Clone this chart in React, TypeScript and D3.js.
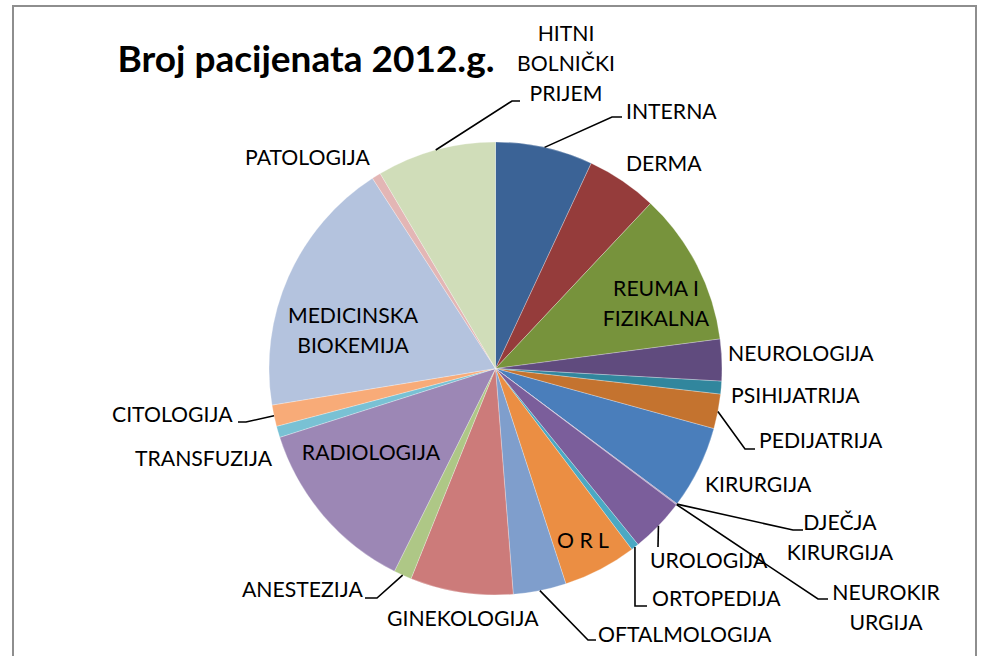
import React from "react";
import * as d3 from "d3";

const categories = [
  "INTERNA", "DERMA", "REUMA I FIZIKALNA", "NEUROLOGIJA", "PSIHIJATRIJA", "PEDIJATRIJA",
  "KIRURGIJA", "DJEČJA KIRURGIJA", "NEUROKIRURGIJA", "UROLOGIJA", "ORTOPEDIJA", "O R L",
  "OFTALMOLOGIJA", "GINEKOLOGIJA", "ANESTEZIJA", "RADIOLOGIJA", "TRANSFUZIJA", "CITOLOGIJA",
  "MEDICINSKA BIOKEMIJA", "PATOLOGIJA", "HITNI BOLNIČKI PRIJEM",
];
const values = [
  25.0, 18.2, 39.3, 10.7, 3.3, 8.9,
  21.3, 0.15, 0.15, 14.0, 2.0, 18.9,
  13.6, 26.4, 4.6, 45.8, 2.9, 5.5,
  66.4, 2.3, 30.6,
];
const colors = [
  "#3B6396", "#953C3B", "#77933C", "#604B7E", "#31869D", "#C4732F",
  "#4A7EBB", "#8064A2", "#7B5E9B", "#7B5E9B", "#4BA9C3", "#EB8E43",
  "#7F9ECC", "#CC7B7A", "#AEC786", "#9C87B5", "#79C1D4", "#F8AB78",
  "#B4C3DE", "#E3B6B5", "#D0DDB9",
];

type Lab = {
  lines: string[];
  x: number;
  y: number;
  anchor?: "start" | "middle";
  leader?: [number, number][];
};

const labels: Lab[] = [
  { lines: ["INTERNA"], x: 626, y: 111, leader: [[612, 117], [622, 117]] },
  { lines: ["DERMA"], x: 626, y: 163 },
  { lines: ["REUMA I", "FIZIKALNA"], x: 656, y: 288, anchor: "middle" },
  { lines: ["NEUROLOGIJA"], x: 728, y: 353 },
  { lines: ["PSIHIJATRIJA"], x: 731, y: 395 },
  { lines: ["PEDIJATRIJA"], x: 759, y: 440, leader: [[745, 449], [755, 449]] },
  { lines: ["KIRURGIJA"], x: 705, y: 484 },
  { lines: ["DJEČJA", "KIRURGIJA"], x: 840, y: 522, anchor: "middle", leader: [[793, 530], [803, 530]] },
  { lines: ["NEUROKIR", "URGIJA"], x: 886, y: 592, anchor: "middle", leader: [[818, 599], [828, 599]] },
  { lines: ["UROLOGIJA"], x: 650, y: 560, leader: [[658, 547]] },
  { lines: ["ORTOPEDIJA"], x: 652, y: 598, leader: [[635, 606], [647, 606]] },
  { lines: ["O R L"], x: 583, y: 540, anchor: "middle" },
  { lines: ["OFTALMOLOGIJA"], x: 598, y: 634, leader: [[588, 640], [596, 640]] },
  { lines: ["GINEKOLOGIJA"], x: 387, y: 618 },
  { lines: ["ANESTEZIJA"], x: 242, y: 589, leader: [[377, 598], [365, 598]] },
  { lines: ["RADIOLOGIJA"], x: 371, y: 452, anchor: "middle" },
  { lines: ["TRANSFUZIJA"], x: 135, y: 458 },
  { lines: ["CITOLOGIJA"], x: 112, y: 414, leader: [[246, 422], [238, 422]] },
  { lines: ["MEDICINSKA", "BIOKEMIJA"], x: 353, y: 315, anchor: "middle" },
  { lines: ["PATOLOGIJA"], x: 245, y: 157 },
  { lines: ["HITNI", "BOLNIČKI", "PRIJEM"], x: 566, y: 33, anchor: "middle", leader: [[512, 101], [520, 101]] },
];

const W = 982;
const H = 656;
const cx = 495.5;
const cy = 368.5;
const R = 226.5;
const lineH = 30;
const textDy = 2.5;
const font = "Lato, 'Open Sans', sans-serif";

export default function App() {
  const pie = d3.pie<number>().sort(null).value((d) => d).startAngle(0).endAngle(2 * Math.PI);
  const arcs = pie(values);
  const arc = d3.arc<d3.PieArcDatum<number>>().innerRadius(0).outerRadius(R);

  return (
    <svg width={W} height={H} style={{ position: "absolute", left: 0, top: 0, background: "#fff" }}>
      <path d={`M13,${H + 5} L13,6 L976,6 L976,${H + 5}`} fill="none" stroke="#8E8E8E" strokeWidth={2} />
      <text x={306} y={63} textAnchor="middle" dominantBaseline="middle" fontFamily={font} fontWeight={700} fontSize={37} fill="#000">
        Broj pacijenata 2012.g.
      </text>
      <g transform={`translate(${cx},${cy})`}>
        {arcs.map((a, i) => (
          <path key={i} d={arc(a) || ""} fill={colors[i]} stroke="#ffffff" strokeOpacity={0.45} strokeWidth={0.6} />
        ))}
      </g>
      {labels.map((l, i) => {
        const a = arcs[i];
        const mid = (a.startAngle + a.endAngle) / 2;
        const ax = cx + R * Math.sin(mid);
        const ay = cy - R * Math.cos(mid);
        return (
          <g key={i}>
            {l.leader && (
              <polyline
                points={[[ax, ay], ...l.leader].map((p) => p.join(",")).join(" ")}
                fill="none"
                stroke="#000"
                strokeWidth={1.6}
              />
            )}
            {l.lines.map((t, j) => (
              <text
                key={j}
                x={l.x}
                y={l.y + j * lineH + textDy}
                textAnchor={l.anchor || "start"}
                dominantBaseline="middle"
                fontFamily={font}
                fontSize={21.2}
                fill="#000"
              >
                {t}
              </text>
            ))}
          </g>
        );
      })}
    </svg>
  );
}
